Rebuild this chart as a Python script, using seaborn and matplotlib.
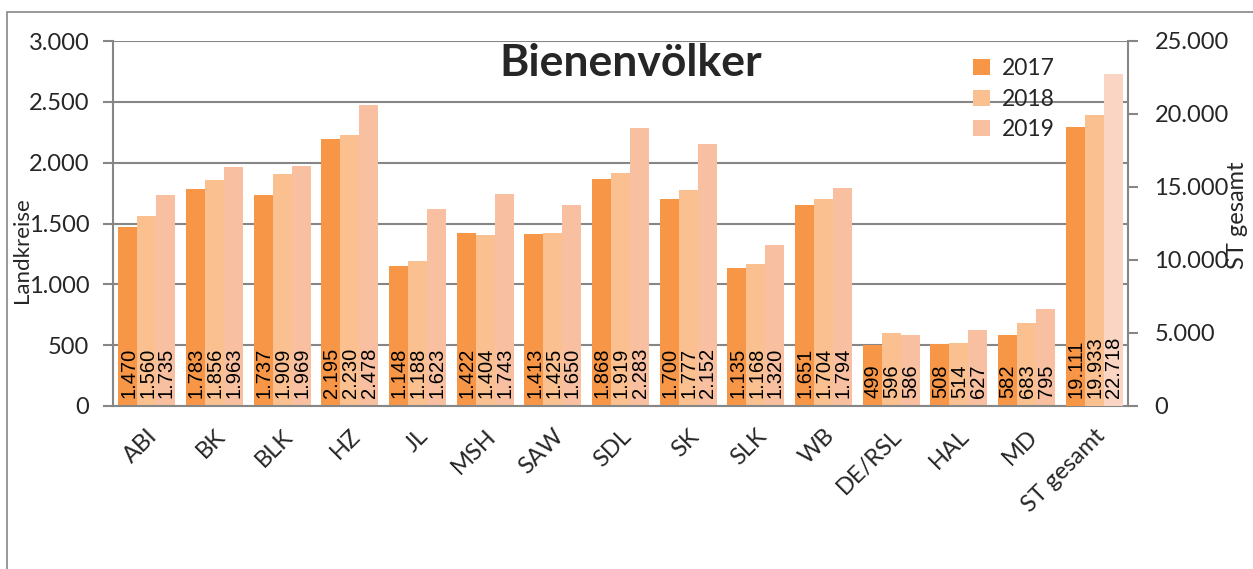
import matplotlib
matplotlib.use("Agg")
import matplotlib.pyplot as plt
import matplotlib.ticker as mticker
from matplotlib.patches import Rectangle
import pandas as pd
import seaborn as sns

# data
kreise = ["ABI", "BK", "BLK", "HZ", "JL", "MSH", "SAW", "SDL", "SK", "SLK",
          "WB", "DE/RSL", "HAL", "MD", "ST gesamt"]
jahre = ["2017", "2018", "2019"]
v2017 = [1470, 1783, 1737, 2195, 1148, 1422, 1413, 1868, 1700, 1135, 1651, 499, 508, 582, 19111]
v2018 = [1560, 1856, 1909, 2230, 1188, 1404, 1425, 1919, 1777, 1168, 1704, 596, 514, 683, 19933]
v2019 = [1735, 1963, 1969, 2478, 1623, 1743, 1650, 2283, 2152, 1320, 1794, 586, 627, 795, 22718]

df = pd.DataFrame({"Kreis": kreise, "2017": v2017, "2018": v2018, "2019": v2019})
long = df.melt(id_vars="Kreis", var_name="Jahr", value_name="Anzahl")
land = long[long["Kreis"] != "ST gesamt"]
gesamt = long[long["Kreis"] == "ST gesamt"]

pal_land = {"2017": "#F79646", "2018": "#FAC090", "2019": "#F8C0A0"}
pal_st = {"2017": "#F79646", "2018": "#FAC090", "2019": "#FAD5C3"}

sns.set_style("white")
plt.rcParams["font.family"] = ["Lato", "DejaVu Sans"]
grey = "#868686"

fig = plt.figure(figsize=(12.53, 5.69), dpi=100)
ax = fig.add_axes([113 / 1253, 1 - 406 / 569, (1128 - 113) / 1253, (406 - 41) / 569])
ax2 = ax.twinx()

sns.barplot(data=land, x="Kreis", y="Anzahl", hue="Jahr", order=kreise,
            hue_order=jahre, palette=pal_land, width=0.84, linewidth=0,
            saturation=1, errorbar=None, ax=ax)
sns.barplot(data=gesamt, x="Kreis", y="Anzahl", hue="Jahr", order=kreise,
            hue_order=jahre, palette=pal_st, width=0.84, linewidth=0,
            saturation=1, errorbar=None, ax=ax2, legend=False)

fmt = lambda v, pos=None: f"{int(round(v)):,}".replace(",", ".")

for a in (ax, ax2):
    for p in a.patches:
        h = p.get_height()
        if p.get_width() == 0 or pd.isna(h) or h == 0:
            continue
        a.annotate(fmt(h), xy=(p.get_x() + p.get_width() / 2, 0),
                   xytext=(0.5, 6), textcoords="offset points",
                   rotation=90, ha="center", va="bottom",
                   fontsize=14.5, family="Liberation Sans", color="black")

ax.set_ylim(0, 3000)
ax.yaxis.set_major_locator(mticker.MultipleLocator(500))
ax.yaxis.set_major_formatter(mticker.FuncFormatter(fmt))
ax2.set_ylim(0, 25000)
ax2.yaxis.set_major_locator(mticker.MultipleLocator(5000))
ax2.yaxis.set_major_formatter(mticker.FuncFormatter(fmt))

ax.set_xlim(-0.5, len(kreise) - 0.5)
ax.set_xticks(range(len(kreise)))
ax.set_xticklabels(kreise, rotation=45, ha="right", rotation_mode="anchor")
ax.set_xticks([i - 0.5 for i in range(len(kreise) + 1)], minor=True)
ax.tick_params(axis="x", which="major", length=0, labelsize=17, pad=14)
ax.tick_params(axis="x", which="minor", length=7, color=grey, width=1.5)
ax.tick_params(axis="y", length=7, color=grey, width=1.5, labelsize=17, pad=10)
ax2.tick_params(axis="y", length=7, color=grey, width=1.5, labelsize=17, pad=12)

ax.grid(axis="y", color=grey, linewidth=1.5)
ax.set_axisbelow(True)
ax.set_xlabel("")
ax.set_ylabel("")
ax2.set_ylabel("")
for a in (ax, ax2):
    for s in a.spines.values():
        s.set_visible(False)
ax.spines["left"].set_visible(True)
ax.spines["bottom"].set_visible(True)
ax2.spines["right"].set_visible(True)
for s in (ax.spines["left"], ax.spines["bottom"], ax2.spines["right"]):
    s.set_color(grey)
    s.set_linewidth(1.5)

ax.text(0.51, 0.94, "Bienenvölker", transform=ax.transAxes, ha="center",
        va="center", fontsize=32, fontweight="bold")

ax.legend(loc="upper left", bbox_to_anchor=(962 / 1253, 1 - 47 / 569),
          bbox_transform=fig.transFigure, frameon=False, fontsize=16.5,
          handlelength=0.7, handleheight=0.7, handletextpad=0.55,
          labelspacing=0.4, borderpad=0)

fig.text(22 / 1253, 1 - 250 / 569, "Landkreise", rotation=90, ha="center",
         va="center", fontsize=16)
fig.text(1238 / 1253, 1 - 215 / 569, "ST gesamt", rotation=90, ha="center",
         va="center", fontsize=17)

fig.patches.append(Rectangle((7 / 1253, -0.1), 1.2, 1 - 12 / 569 + 0.1,
                             transform=fig.transFigure, fill=False,
                             edgecolor=grey, linewidth=1.2))

fig.savefig("out.png", dpi=100)
